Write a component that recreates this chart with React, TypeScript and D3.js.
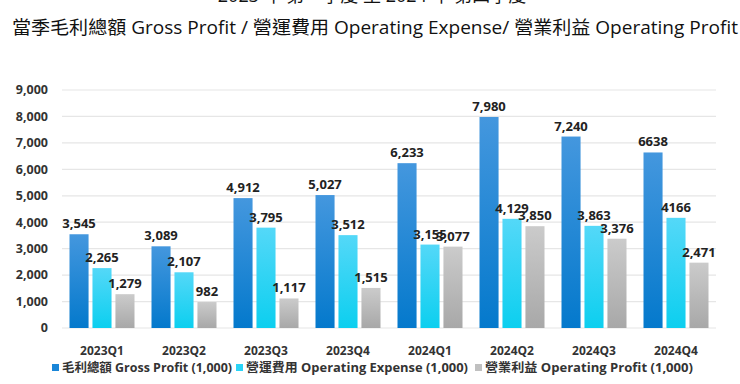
import React from "react";
import * as d3 from "d3";

const categories = ["2023Q1", "2023Q2", "2023Q3", "2023Q4", "2024Q1", "2024Q2", "2024Q3", "2024Q4"];
const grossProfit = [3545, 3089, 4912, 5027, 6233, 7980, 7240, 6638];
const operatingExpense = [2265, 2107, 3795, 3512, 3155, 4129, 3863, 4166];
const operatingProfit = [1279, 982, 1117, 1515, 3077, 3850, 3376, 2471];
const grossLabels = ["3,545", "3,089", "4,912", "5,027", "6,233", "7,980", "7,240", "6638"];
const expenseLabels = ["2,265", "2,107", "3,795", "3,512", "3,155", "4,129", "3,863", "4166"];
const profitLabels = ["1,279", "982", "1,117", "1,515", "3,077", "3,850", "3,376", "2,471"];
const yTicks = [0, 1000, 2000, 3000, 4000, 5000, 6000, 7000, 8000, 9000];
const seriesNames = [
  "毛利總額 Gross Profit (1,000)",
  "營運費用 Operating Expense (1,000)",
  "營業利益  Operating Profit (1,000)",
];
const titleTop = "2023 年 第一季度 至 2024 年 第四季度";
const titleMain = "當季毛利總額  Gross Profit / 營運費用  Operating Expense/ 營業利益  Operating Profit";

const W = 740;
const H = 384;
const FONT = "'Open Sans', 'Noto Sans CJK TC', 'Noto Sans', sans-serif";

export default function App() {
  const x0 = d3.scaleBand<string>().domain(categories).range([61, 717]).paddingInner(0).paddingOuter(0);
  const keys = [0, 1, 2];
  const groupPad = 8.5;
  const x1 = d3
    .scaleBand<number>()
    .domain(keys)
    .range([0, x0.bandwidth() - 2 * groupPad])
    .paddingInner(0.17)
    .paddingOuter(0);
  const y = d3.scaleLinear().domain([0, 9000]).range([328, 90]);

  const data = [grossProfit, operatingExpense, operatingProfit];
  const labels = [grossLabels, expenseLabels, profitLabels];
  const grads = ["gBlue", "gCyan", "gGray"];
  const legendColors = ["#1a86d8", "#2ad4f6", "#c0c0c0"];
  const legendX = [52, 236, 475];
  const legendLen = [170, 222, 208];

  return (
    <svg width={W} height={H} style={{ position: "absolute", left: 0, top: 0, background: "#fff" }}>
      <defs>
        <linearGradient id="gBlue" x1="0" y1="0" x2="0" y2="1">
          <stop offset="0%" stopColor="#4497de" />
          <stop offset="100%" stopColor="#0479cc" />
        </linearGradient>
        <linearGradient id="gCyan" x1="0" y1="0" x2="0" y2="1">
          <stop offset="0%" stopColor="#54d8f8" />
          <stop offset="100%" stopColor="#0ccfef" />
        </linearGradient>
        <linearGradient id="gGray" x1="0" y1="0" x2="0" y2="1">
          <stop offset="0%" stopColor="#cbcbcb" />
          <stop offset="100%" stopColor="#a8a8a8" />
        </linearGradient>
      </defs>
      <rect x={0} y={0} width={W} height={H} fill="#fff" />
      <text x={372} y={2} textAnchor="middle" fontFamily={FONT} fontSize={18} fill="#111">
        {titleTop}
      </text>
      <text
        x={12}
        y={34}
        fontFamily={FONT}
        fontSize={18.5}
        fill="#111"
        textLength={726}
        lengthAdjust="spacingAndGlyphs"
      >
        {titleMain}
      </text>
      {yTicks.map((t) => (
        <g key={t}>
          <line x1={62} x2={716} y1={y(t)} y2={y(t)} stroke="#e6e6e6" strokeWidth={1.2} />
          <text
            x={48}
            y={y(t)}
            dy="0.35em"
            textAnchor="end"
            fontFamily={FONT}
            fontWeight={700}
            fontSize={12.5}
            fill="#333"
          >
            {d3.format(",")(t)}
          </text>
        </g>
      ))}
      {categories.map((c, i) => (
        <g key={c} transform={`translate(${(x0(c) as number) + groupPad},0)`}>
          {keys.map((k) => (
            <rect
              key={k}
              x={x1(k)}
              y={y(data[k][i])}
              width={x1.bandwidth()}
              height={y(0) - y(data[k][i])}
              fill={`url(#${grads[k]})`}
            />
          ))}
          {keys.map((k) => (
            <text
              key={"t" + k}
              x={(x1(k) as number) + x1.bandwidth() / 2}
              y={y(data[k][i]) - 6}
              textAnchor="middle"
              fontFamily={FONT}
              fontWeight={700}
              fontSize={13}
              fill="#222"
            >
              {labels[k][i]}
            </text>
          ))}
        </g>
      ))}
      {categories.map((c) => (
        <text
          key={"c" + c}
          x={(x0(c) as number) + x0.bandwidth() / 2}
          y={351}
          dy="0.35em"
          textAnchor="middle"
          fontFamily={FONT}
          fontWeight={700}
          fontSize={12}
          fill="#333"
        >
          {c}
        </text>
      ))}
      {seriesNames.map((s, i) => (
        <g key={s} transform={`translate(${legendX[i]},368)`}>
          <rect x={0} y={-4} width={7} height={7} fill={legendColors[i]} />
          <text
            x={10}
            y={0}
            dy="0.35em"
            fontFamily={FONT}
            fontWeight={700}
            fontSize={12.5}
            fill="#333"
            textLength={legendLen[i]}
            lengthAdjust="spacingAndGlyphs"
          >
            {s}
          </text>
        </g>
      ))}
    </svg>
  );
}
